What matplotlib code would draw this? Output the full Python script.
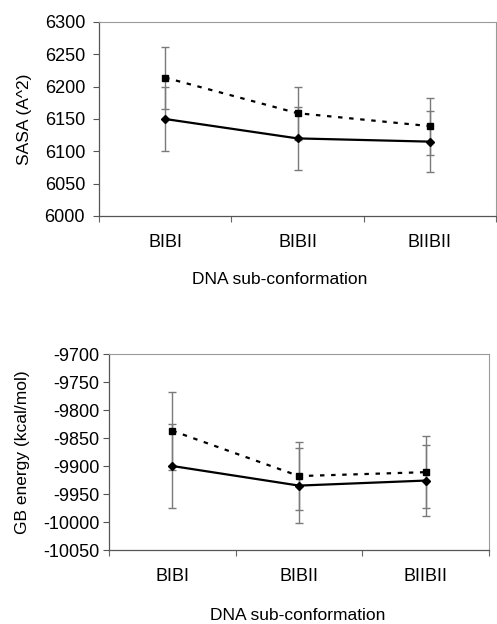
import matplotlib
matplotlib.use('Agg')
import matplotlib.pyplot as plt
from matplotlib.ticker import FixedLocator, NullFormatter

plt.rcParams['font.family'] = ['Liberation Sans', 'DejaVu Sans']
plt.rcParams['axes.unicode_minus'] = False

# data
conformations = ['BIBI', 'BIBII', 'BIIBII']

sasa_solid = [6150, 6120, 6115]
sasa_solid_err = [50, 49, 47]
sasa_dashed = [6214, 6159, 6139]
sasa_dashed_err = [48, 41, 44]

gb_solid = [-9900, -9935, -9926]
gb_solid_err = [75, 67, 63]
gb_dashed = [-9837, -9918, -9911]
gb_dashed_err = [70, 60, 64]

W, H = 497, 624
fig = plt.figure(figsize=(W / 100, H / 100), dpi=100)


def px_axes(left, top, right, bottom):
    return fig.add_axes([left / W, 1 - bottom / H, (right - left) / W, (bottom - top) / H])


def draw(ax, solid, solid_err, dashed, dashed_err, ylim, ystep, ylabel, ylab_x, xlab_xy, ypad):
    x = list(range(len(conformations)))
    ax.errorbar(x, solid, yerr=solid_err, fmt='none', ecolor='#7a7a7a',
                elinewidth=1.0, capsize=3, capthick=1.0, zorder=2)
    ax.errorbar(x, dashed, yerr=dashed_err, fmt='none', ecolor='#7a7a7a',
                elinewidth=1.0, capsize=3, capthick=1.0, zorder=2)
    ax.plot(x, solid, color='black', lw=1.6, marker='D', ms=4, zorder=3)
    ax.plot(x, dashed, color='black', lw=1.6, ls=(0, (2, 3)), marker='s', ms=4.5, zorder=3)

    ax.set_xlim(-0.5, len(conformations) - 0.5)
    ax.set_ylim(*ylim)
    ticks = list(range(ylim[0], ylim[1] + 1, ystep))
    ax.set_yticks(ticks)
    ax.set_xticks(x)
    ax.set_xticklabels(conformations)
    ax.xaxis.set_minor_locator(FixedLocator([i - 0.5 for i in range(len(conformations) + 1)]))
    ax.xaxis.set_minor_formatter(NullFormatter())
    ax.tick_params(axis='x', which='major', length=0, pad=13, labelsize=13)
    ax.tick_params(axis='x', which='minor', length=4, width=0.8, color='#666666', direction='out')
    ax.tick_params(axis='y', length=4, width=0.8, color='#555555', pad=ypad, labelsize=13)

    for side in ['left', 'bottom']:
        ax.spines[side].set_color('#555555')
        ax.spines[side].set_linewidth(0.9)
    for side in ['top', 'right']:
        ax.spines[side].set_color('#9a9a9a')
        ax.spines[side].set_linewidth(0.8)

    ax.set_ylabel(ylabel, fontsize=12.5)
    ax.yaxis.set_label_coords(ylab_x, 0.5)
    ax.set_xlabel('DNA sub-conformation', fontsize=12.5)
    ax.xaxis.set_label_coords(*xlab_xy)


ax1 = px_axes(99, 22, 496, 216)
draw(ax1, sasa_solid, sasa_solid_err, sasa_dashed, sasa_dashed_err,
     (6000, 6300), 50, 'SASA (A^2)', -0.17, (0.456, -0.29), 6)

ax2 = px_axes(109, 354, 489, 550)
draw(ax2, gb_solid, gb_solid_err, gb_dashed, gb_dashed_err,
     (-10050, -9700), 50, 'GB energy (kcal/mol)', -0.207, (0.497, -0.295), 3)

fig.savefig('out.png', dpi=100)
